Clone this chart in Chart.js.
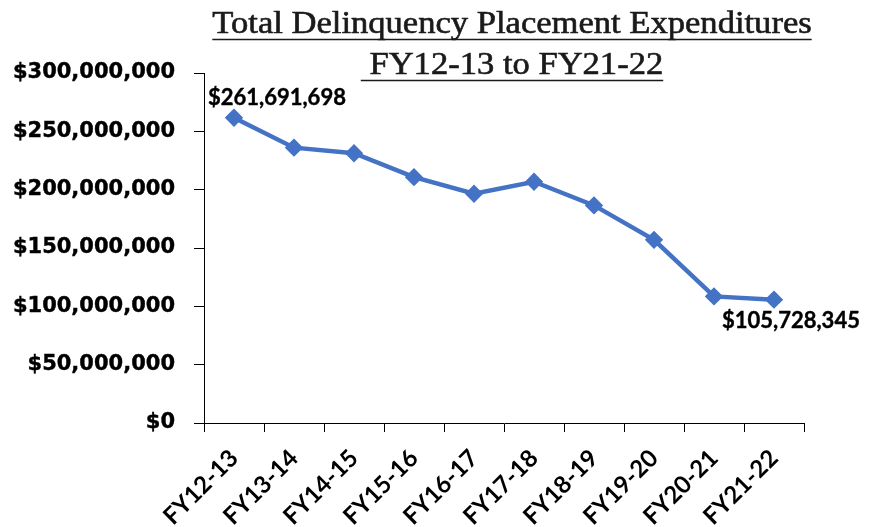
<!DOCTYPE html>
<html>
<head>
<meta charset="utf-8">
<script src="https://cdn.jsdelivr.net/npm/chart.js@4.4.1/dist/chart.umd.min.js"></script>
<style>
  html, body { margin: 0; padding: 0; background: #ffffff; }
  #wrap { position: relative; width: 877px; height: 527px; }
</style>
</head>
<body>
<div id="wrap"><canvas id="c" width="877" height="527"></canvas></div>
<script>
// ---- Data ----
const titleLines = ['Total Delinquency Placement Expenditures', ' FY12-13 to FY21-22'];
const categories = ['FY12-13', 'FY13-14', 'FY14-15', 'FY15-16', 'FY16-17', 'FY17-18', 'FY18-19', 'FY19-20', 'FY20-21', 'FY21-22'];
const expenditures = [261691698, 236000000, 231200000, 210700000, 196500000, 206800000, 186500000, 157000000, 108500000, 105728345];
const yTickValues = [0, 50000000, 100000000, 150000000, 200000000, 250000000, 300000000];
const labeledPoints = [0, 9];

const money = v => '$' + Math.round(v).toLocaleString('en-US');
const LINE_COLOR = '#4472C4';
const SANS = 'Lato, "Open Sans", sans-serif';

const titlePlugin = {
  id: 'underlinedTitle',
  afterDraw(chart) {
    const ctx = chart.ctx;
    const cx = 512;
    const size = 31;
    const sx = 1.115;
    const baselines = [33, 74];
    ctx.save();
    ctx.font = `${size}px "Liberation Serif", serif`;
    ctx.fillStyle = '#1a1a1a';
    ctx.strokeStyle = '#1a1a1a';
    ctx.textAlign = 'left';
    ctx.textBaseline = 'alphabetic';
    titleLines.forEach((t, i) => {
      const w = ctx.measureText(t).width * sx;
      const x0 = cx - w / 2;
      ctx.save();
      ctx.translate(x0, baselines[i]);
      ctx.scale(sx, 1);
      ctx.fillText(t, 0, 0);
      ctx.lineWidth = 0.6;
      ctx.strokeText(t, 0, 0);
      ctx.restore();
      ctx.lineWidth = 1.6;
      ctx.beginPath();
      ctx.moveTo(x0, baselines[i] + 6.5);
      ctx.lineTo(x0 + w, baselines[i] + 6.5);
      ctx.stroke();
    });
    ctx.restore();
  }
};

const pointLabelPlugin = {
  id: 'pointLabels',
  afterDatasetsDraw(chart) {
    const ctx = chart.ctx;
    const meta = chart.getDatasetMeta(0);
    const offsets = { 0: [-26, -13], 9: [-52, 28] };
    ctx.save();
    ctx.font = `bold 22px ${SANS}`;
    ctx.fillStyle = '#000000';
    ctx.strokeStyle = '#000000';
    ctx.lineWidth = 0.4;
    ctx.textAlign = 'left';
    ctx.textBaseline = 'alphabetic';
    labeledPoints.forEach(i => {
      const pt = meta.data[i];
      const off = offsets[i];
      const txt = money(expenditures[i]);
      ctx.fillText(txt, pt.x + off[0], pt.y + off[1]);
      ctx.strokeText(txt, pt.x + off[0], pt.y + off[1]);
    });
    ctx.restore();
  }
};

new Chart(document.getElementById('c'), {
  type: 'line',
  data: {
    labels: categories,
    datasets: [{
      data: expenditures,
      borderColor: LINE_COLOR,
      backgroundColor: LINE_COLOR,
      borderWidth: 4.5,
      pointStyle: 'rectRot',
      pointRadius: 6,
      pointHoverRadius: 6,
      pointBackgroundColor: LINE_COLOR,
      pointBorderColor: LINE_COLOR,
      tension: 0,
      fill: false
    }]
  },
  options: {
    responsive: false,
    animation: false,
    devicePixelRatio: 1,
    layout: { padding: { top: 73, right: 73, bottom: 0, left: 0 } },
    plugins: {
      legend: { display: false },
      title: { display: false },
      tooltip: { enabled: false }
    },
    scales: {
      x: {
        type: 'category',
        offset: true,
        grid: { display: true, offset: true, drawOnChartArea: false, tickLength: 9, color: '#000000', tickColor: '#000000' },
        border: { display: true, color: '#000000', width: 1 },
        ticks: {
          color: '#000000',
          font: { family: SANS, size: 24, weight: 'bold' },
          minRotation: 45, maxRotation: 45,
          autoSkip: false,
          padding: 12
        },
        afterFit(scale) { scale.height = 104; }
      },
      y: {
        min: 0,
        max: 300000000,
        afterBuildTicks(scale) { scale.ticks = yTickValues.map(v => ({ value: v })); },
        grid: { display: true, drawOnChartArea: false, tickLength: 10, color: '#000000', tickColor: '#000000' },
        border: { display: true, color: '#000000', width: 1 },
        ticks: {
          color: '#000000',
          font: { family: '"DejaVu Sans", sans-serif', size: 21, weight: 'bold' },
          textStrokeColor: '#000000',
          textStrokeWidth: 0.4,
          padding: 19,
          callback: v => money(v)
        },
        afterFit(scale) { scale.width = 204; }
      }
    }
  },
  plugins: [titlePlugin, pointLabelPlugin]
});
</script>
</body>
</html>
